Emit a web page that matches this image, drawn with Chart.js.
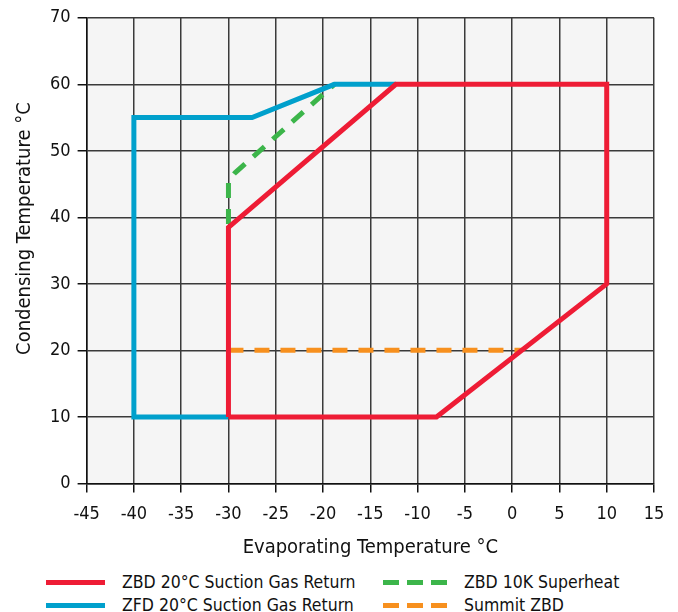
<!DOCTYPE html>
<html>
<head>
<meta charset="utf-8">
<script src="https://cdn.jsdelivr.net/npm/chart.js@4/dist/chart.umd.min.js"></script>
<style>
    body { margin: 0; background: #fff; }
    #wrap { position: relative; width: 678px; height: 612px; overflow: hidden; font-family: "Liberation Sans Narrow", "DejaVu Sans Condensed", sans-serif; }
    #chartBox { position: absolute; left: 0; top: 0; width: 678px; height: 564px; }
    .leg { position: absolute; display: flex; align-items: center; font-size: 17.5px; color: #111; white-space: nowrap; }
    .swatch { height: 5px; margin-right: 17px; }
</style>
</head>
<body>
<div id="wrap">
    <div id="chartBox"><canvas id="envelope"></canvas></div>
    <div id="legend"></div>
</div>
<script>
// Operating envelope outlines (evaporating °C, condensing °C)
const zbdX = [-30, -8, 10, 10, -12.3, -30, -30];
const zbdY = [10, 10, 30, 60, 60, 38.5, 10];
const zfdX = [-30, -40, -40, -27.5, -18.8, -12.3];
const zfdY = [10, 10, 55, 55, 60, 60];
const superheatX = [-30, -30, -29.3, -18.8];
const superheatY = [39, 45.5, 46.7, 60];
const summitX = [-30, 1];
const summitY = [20, 20];

const seriesNames = ['ZBD 20°C Suction Gas Return', 'ZFD 20°C Suction Gas Return', 'ZBD 10K Superheat', 'Summit ZBD'];
const seriesColors = ['#ee1c35', '#00a0cc', '#3cb54a', '#f7901e'];
const yTitle = 'Condensing Temperature °C';

const toPoints = (xs, ys) => xs.map((x, i) => ({ x, y: ys[i] }));
const FONT = '"Liberation Sans Narrow", "DejaVu Sans Condensed", sans-serif';

const plotBg = {
    id: 'plotBg',
    beforeDraw(c) {
        const { ctx, chartArea: a } = c;
        ctx.save();
        ctx.fillStyle = '#f5f5f5';
        ctx.fillRect(a.left, a.top, a.right - a.left, a.bottom - a.top);
        ctx.restore();
    },
    // y title sits a bit above the plot centre in the original
    afterDraw(c) {
        const { ctx, chartArea: a } = c;
        ctx.save();
        ctx.translate(25, (a.top + a.bottom) / 2 - 22);
        ctx.rotate(-Math.PI / 2);
        ctx.font = '20px ' + FONT;
        ctx.fillStyle = '#111';
        ctx.textAlign = 'center';
        ctx.textBaseline = 'middle';
        ctx.fillText(yTitle, 0, 0);
        ctx.restore();
    }
};

function lineSet(i, xs, ys, dashed) {
    return {
        label: seriesNames[i],
        data: toPoints(xs, ys),
        showLine: true,
        borderColor: seriesColors[i],
        backgroundColor: seriesColors[i],
        borderWidth: 5,
        borderDash: dashed ? [15, 11] : [],
        borderJoinStyle: 'miter',
        pointRadius: 0,
        fill: false
    };
}

new Chart(document.getElementById('envelope'), {
    type: 'scatter',
    data: {
        datasets: [
            lineSet(0, zbdX, zbdY, false),
            lineSet(1, zfdX, zfdY, false),
            lineSet(2, superheatX, superheatY, true),
            lineSet(3, summitX, summitY, true)
        ]
    },
    options: {
        responsive: true,
        maintainAspectRatio: false,
        animation: false,
        layout: { padding: { top: 7, right: 24, left: 43, bottom: 0 } },
        plugins: { legend: { display: false }, tooltip: { enabled: false } },
        scales: {
            x: {
                type: 'linear', min: -45, max: 15,
                ticks: { stepSize: 5, color: '#111', font: { family: FONT, size: 18 }, padding: 11, maxRotation: 0 },
                grid: { color: '#3a3a3a', lineWidth: 1.5, tickLength: 9, tickColor: '#111' },
                border: { color: '#111', width: 1.5 },
                title: { display: true, text: 'Evaporating Temperature °C', color: '#111', font: { family: FONT, size: 20 }, padding: { top: 0 } }
            },
            y: {
                type: 'linear', min: 0, max: 70,
                ticks: { stepSize: 10, color: '#111', font: { family: FONT, size: 18 }, padding: 7 },
                grid: { color: '#3a3a3a', lineWidth: 1.5, tickLength: 9, tickColor: '#111' },
                border: { color: '#111', width: 1.5 }
            }
        }
    },
    plugins: [plotBg]
});

// legend: two columns, matching the layout under the plot
const legendSpots = [
    { left: 46, top: 572, w: 59 },
    { left: 46, top: 595, w: 59 },
    { left: 383, top: 572, w: 64 },
    { left: 383, top: 595, w: 64 }
];
const legend = document.getElementById('legend');
seriesNames.forEach((name, i) => {
    const s = legendSpots[i];
    const dashed = i >= 2;
    const bg = dashed
        ? `repeating-linear-gradient(to right, ${seriesColors[i]} 0 16px, transparent 16px 24px)`
        : seriesColors[i];
    const item = document.createElement('div');
    item.className = 'leg';
    item.style.left = s.left + 'px';
    item.style.top = s.top + 'px';
    item.style.height = '20px';
    item.innerHTML = `<span class="swatch" style="width:${s.w}px;background:${bg}"></span><span>${name}</span>`;
    legend.appendChild(item);
});
</script>
</body>
</html>
